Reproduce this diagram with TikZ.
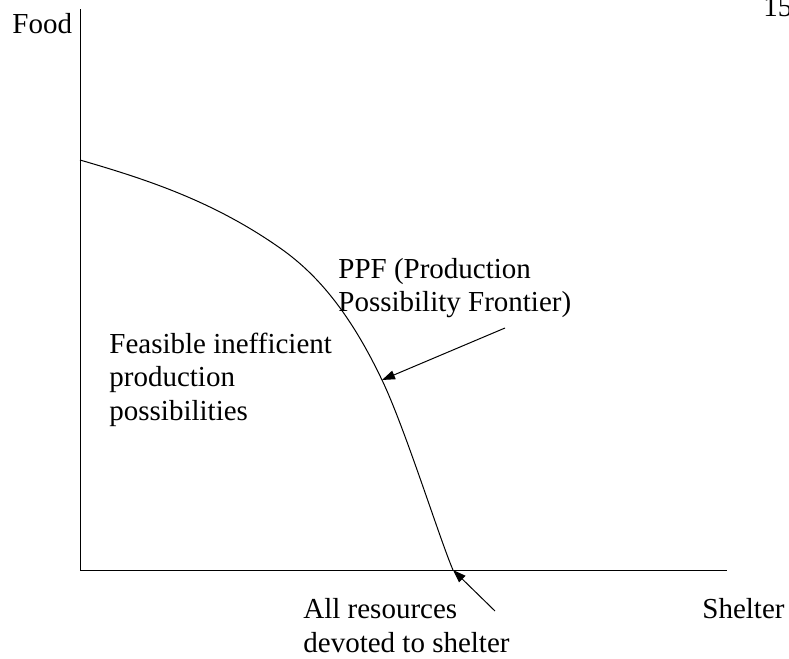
\documentclass[tikz,border=0pt]{standalone}
\usepackage{fontspec}
\setmainfont{Liberation Serif}
\usetikzlibrary{arrows.meta}

\begin{document}
\begin{tikzpicture}[
x=0.5pt, y=-0.5pt,
every node/.style={inner sep=0pt, align=left, anchor=base west, font=\fontsize{14.5}{16.75}\selectfont},
axis/.style={line width=0.5pt},
curve/.style={line width=0.5pt},
arrow/.style={-{Triangle[length=6.5pt, width=4.5pt]}, line width=0.5pt}
]
\useasboundingbox (0,0) rectangle (789,659);

% axes
\coordinate (origin) at (80,570);
\coordinate (ytop) at (80,9);
\coordinate (xend) at (727,570);
\draw[axis] (ytop) -- (origin) -- (xend);

% labels (base = last line)
\node (page) at (763,16) {157};
\node (food) at (12,33) {Food};
\node (shelter) at (702,618) {Shelter};
\node (ppf) at (338,311.5) {PPF (Production\\Possibility Frontier)};
\node (feasible) at (109,420) {Feasible inefficient\\production\\possibilities};
\node (allres) at (303,652) {All resources\\devoted to shelter};

% frontier
\coordinate (ppfstart) at (80,160);
\coordinate (ppfmid) at (280,248);
\coordinate (ppfhit) at (382,380);
\coordinate (xhit) at (453,570);
\draw[curve] (ppfstart) .. controls (147,179.5) and (213,201) .. (ppfmid)
  .. controls (314,271.8) and (348,308.6) .. (ppfhit)
  .. controls (405,428) and (440,540) .. (xhit);

% arrows
\coordinate (ppftail) at (505,328);
\coordinate (alltail) at (495,611);
\draw[arrow] (ppftail) -- (ppfhit);
\draw[arrow] (alltail) -- (xhit);

\end{tikzpicture}
\end{document}
